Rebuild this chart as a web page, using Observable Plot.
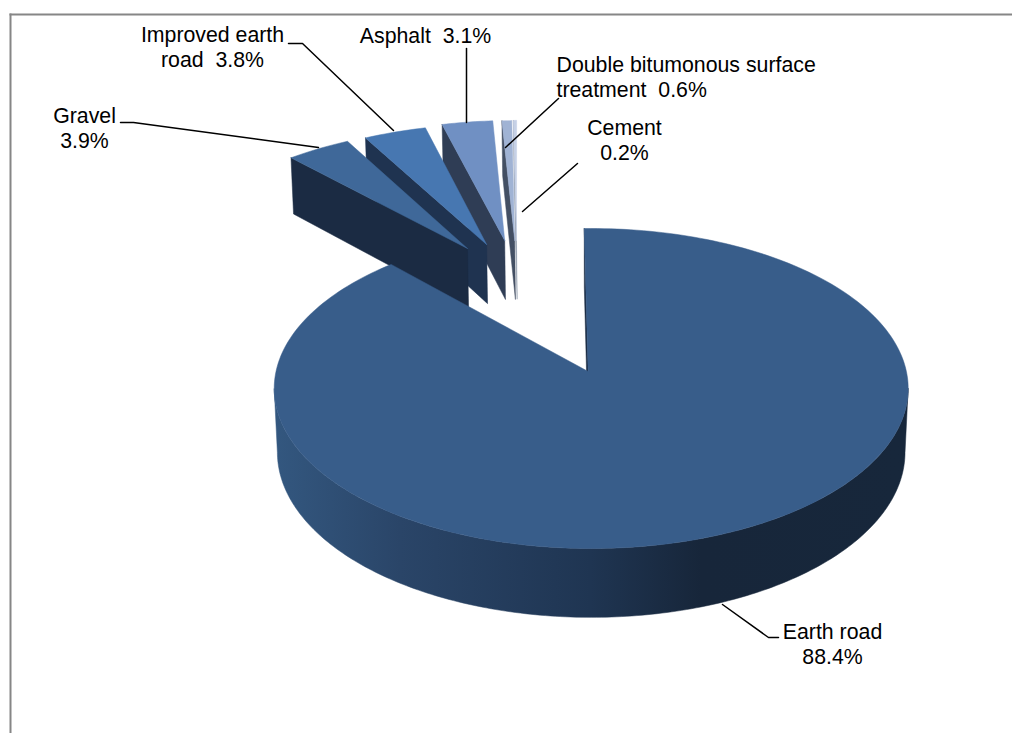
<!DOCTYPE html>
<html><head><meta charset="utf-8">
<script src="https://cdn.jsdelivr.net/npm/d3@7"></script>
<script src="https://cdn.jsdelivr.net/npm/@observablehq/plot@0.6"></script>
<style>html,body{margin:0;padding:0;background:#fff}svg{display:block}</style>
</head><body><div id="chart"></div>
<script>
// --- data ---
const categories = ["Earth road", "Gravel", "Improved earth road", "Asphalt", "Double bitumonous surface treatment", "Cement"];
const shares = [88.4, 3.9, 3.8, 3.1, 0.6, 0.2];
const labelText = [
  "Earth road\n88.4%", "Gravel\n3.9%", "Improved earth\nroad  3.8%", "Asphalt  3.1%",
  "Double bitumonous surface\ntreatment  0.6%", "Cement\n0.2%"
];
// --- appearance / layout ---
const topColors = ["#385d8a", "#3f6899", "#4777b1", "#7090c3", "#a0b3d4", "#c6d1e6"];
const wallColors = ["#1a2c44", "#1b2b43", "#1f3350", "#2f3d55", "#434f63", "#8d98a8"];
const rimStops = [275, 400, 590, 700, 905];
const rimColors = ["#33577f", "#2a4568", "#1f3552", "#17263a", "#17273b"];
const explodeV = [0, -0.428, -0.3628, -0.3009, -0.266, -0.26];
const explodeU = [0, -0.8475, -0.8777, -0.908, -0.908, -0.91];
const labelX = [832, 84, 212, 425, 556, 624];
const labelY = [621, 105, 24, 25, 54, 117];
const labelAnchor = ["middle", "middle", "middle", "middle", "start", "middle"];
const leaderPaths = [
  [[722, 604], [768, 637], [778, 637]],
  [[318, 147], [133, 122], [120, 122]],
  [[393, 130], [302, 43], [288, 43]],
  [[466, 122], [466, 48]],
  [[505, 147], [558, 98]],
  [[522, 211], [577, 163]]
];
const startAngle = -1.4;      // degrees clockwise from "up"

// projection of the tilted disc: v across, u towards the viewer, z downward
const cx = 590.7, cy = 371, A = 158.2, B = 315.2, C = 64, k = 0.10625, m = 0.01;
const project = (v, u, z) => {
  const D = 1 - k * u + m * z;
  return {x: cx + B * v / D, y: cy + (A * u + C * z) / D};
};
const rad = d3.scaleLinear([0, 180], [0, Math.PI]);
const onRim = (deg, dv, du, z) => project(dv + Math.sin(rad(deg)), du - Math.cos(rad(deg)), z);

// slice angles from shares
const total = d3.sum(shares);
const ends = d3.cumsum(shares).map(s => startAngle + s / total * 360);
const slices = categories.map((name, i) => ({
  name, i, a0: i ? ends[i - 1] : startAngle, a1: ends[i],
  dv: explodeV[i], du: explodeU[i]
}));

const polys = [];
const addPoly = (key, color, pts) => {
  [...pts, pts[0]].forEach(p => polys.push({key, color, x: p.x, y: p.y}));
};
const range = (a, b, n) => d3.range(n + 1).map(j => a + (b - a) * j / n);

// exploded wedges: drawn far to near (Cement first, Gravel last)
[...slices.slice(1)].reverse().forEach(s => {
  const apexT = project(s.dv, s.du, 0), apexB = project(s.dv, s.du, 1);
  addPoly(s.name + "-wall", wallColors[s.i], [
    onRim(s.a0, s.dv, s.du, 0), apexT, apexB, onRim(s.a0, s.dv, s.du, 1)
  ]);
  addPoly(s.name + "-top", topColors[s.i], [
    apexT, ...range(s.a0, s.a1, 12).map(a => onRim(a, s.dv, s.du, 0))
  ]);
});

// main slice: cut wall, gradient rim, top
const e = slices[0];
const apexShift = -0.0096;
addPoly("earth-cut", wallColors[0], [
  onRim(e.a0, 0, 0, 0), project(apexShift, 0, 0), project(apexShift, 0, 1), onRim(e.a0, 0, 0, 1)
]);
// rim spans the two silhouette points of the disc, where the ellipse is widest
const silhouette = rad.invert(Math.acos(-k));
const rimAngles = range(silhouette, 360 - silhouette, 200);
addPoly("rim", "url(#rimGradient)", [
  ...rimAngles.map(a => onRim(a, 0, 0, 0)),
  ...rimAngles.slice().reverse().map(a => onRim(a, 0, 0, 1))
]);
addPoly("earth-top", topColors[0], [
  project(apexShift, 0, 0), ...range(e.a0, e.a1, 240).map(a => onRim(a, 0, 0, 0))
]);

const leaders = leaderPaths.flatMap((p, i) => p.map(([x, y]) => ({i, x, y})));
const labels = labelText.map((text, i) => ({text, x: labelX[i], y: labelY[i], anchor: labelAnchor[i]}));

// horizontal shading of the rim, in the same pixel space as the x scale
const rimGradient = () => {
  const g = d3.create("svg:linearGradient")
    .attr("id", "rimGradient").attr("gradientUnits", "userSpaceOnUse")
    .attr("x1", rimStops[0]).attr("x2", rimStops[rimStops.length - 1]).attr("y1", 0).attr("y2", 0);
  rimStops.forEach((s, i) => g.append("stop")
    .attr("offset", (s - rimStops[0]) / (rimStops[rimStops.length - 1] - rimStops[0]))
    .attr("stop-color", rimColors[i]));
  return g.node();
};

const chart = Plot.plot({
  width: 1012, height: 733,
  marginLeft: 10, marginTop: 14, marginRight: 0, marginBottom: 0,
  style: {background: "#fff", overflow: "visible"},
  x: {domain: [10, 1012], range: [10, 1012], axis: null},
  y: {domain: [14, 733], range: [14, 733], axis: null},
  color: {type: "identity"},
  marks: [
    rimGradient,
    Plot.frame({anchor: "left", stroke: "#868686", strokeWidth: 2, strokeOpacity: 1}),
    Plot.frame({anchor: "top", stroke: "#868686", strokeWidth: 2, strokeOpacity: 1}),
    Plot.line(polys, {x: "x", y: "y", z: "key", fill: "color", stroke: "color", strokeWidth: 0.5, strokeLinejoin: "round"}),
    Plot.line(leaders, {x: "x", y: "y", z: "i", stroke: "#000", strokeWidth: 1.5}),
    ...["start", "middle"].map(a => Plot.text(labels.filter(d => d.anchor === a), {
      x: "x", y: "y", text: "text", textAnchor: a, lineAnchor: "top", lineHeight: 1.17,
      fontFamily: "Liberation Sans, Arial, sans-serif", fontSize: 21.3, fill: "#000"
    }))
  ]
});
document.getElementById("chart").append(chart);
</script></body></html>
